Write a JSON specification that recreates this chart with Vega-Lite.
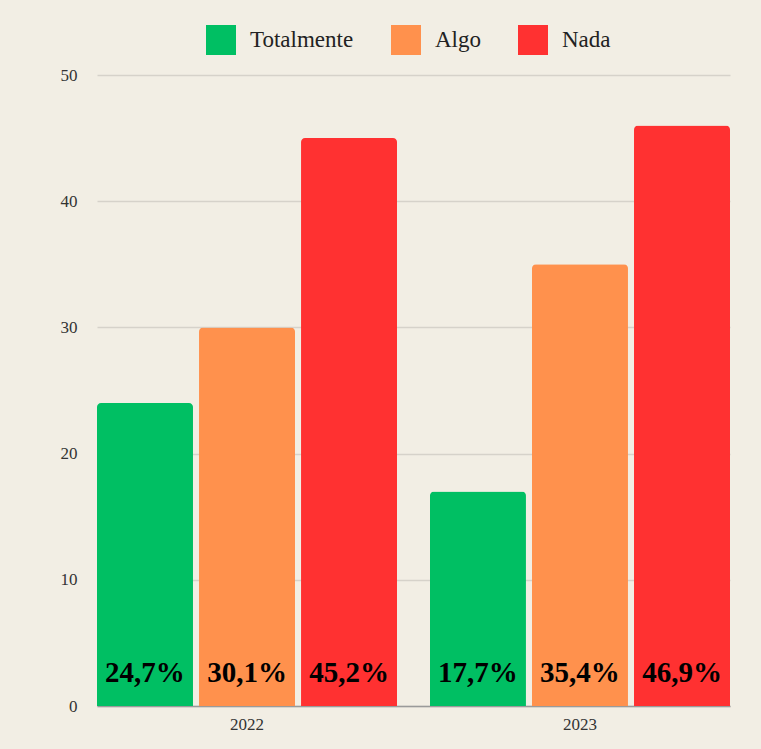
{
  "$schema": "https://vega.github.io/schema/vega-lite/v6.json",
  "width": 633,
  "height": 631,
  "autosize": "none",
  "padding": {"left": 97, "top": 75, "right": 31, "bottom": 43},
  "background": "#f2eee4",
  "config": {
    "view": {"stroke": null},
    "font": "Liberation Serif",
    "axis": {"labelFont": "Liberation Serif", "labelColor": "#333333", "labelFontSize": 17}
  },
  "data": {
    "values": [
      {"year": "2022", "cat": "Totalmente", "value": 24, "label": "24,7%"},
      {"year": "2022", "cat": "Algo", "value": 30, "label": "30,1%"},
      {"year": "2022", "cat": "Nada", "value": 45, "label": "45,2%"},
      {"year": "2023", "cat": "Totalmente", "value": 17, "label": "17,7%"},
      {"year": "2023", "cat": "Algo", "value": 35, "label": "35,4%"},
      {"year": "2023", "cat": "Nada", "value": 46, "label": "46,9%"}
    ]
  },
  "encoding": {
    "x": {
      "field": "year", "type": "nominal", "title": null,
      "scale": {"paddingInner": 0.099, "paddingOuter": 0},
      "axis": {"labelAngle": 0, "ticks": false, "domainColor": "#9a9a9a", "domainWidth": 1.5, "labelPadding": 10}
    },
    "xOffset": {
      "field": "cat", "type": "nominal",
      "sort": ["Totalmente", "Algo", "Nada"],
      "scale": {"paddingInner": 0.059, "paddingOuter": 0}
    }
  },
  "layer": [
    {
      "mark": {"type": "bar", "cornerRadiusTopLeft": 4, "cornerRadiusTopRight": 4},
      "encoding": {
        "y": {
          "field": "value", "type": "quantitative", "title": null,
          "scale": {"domain": [0, 50]},
          "axis": {"values": [0, 10, 20, 30, 40, 50], "domain": false, "ticks": false, "labelPadding": 20, "gridColor": "#d6d2ca", "gridWidth": 1.5}
        },
        "color": {
          "field": "cat", "type": "nominal",
          "sort": ["Totalmente", "Algo", "Nada"],
          "scale": {"domain": ["Totalmente", "Algo", "Nada"], "range": ["#00bf63", "#ff914d", "#ff3131"]},
          "legend": {
            "title": null, "orient": "none", "direction": "horizontal",
            "legendX": 109, "legendY": -50,
            "symbolType": "square", "symbolSize": 900, "symbolStrokeWidth": 0, "symbolOpacity": 1,
            "labelFont": "Liberation Serif", "labelFontSize": 23, "labelColor": "#222222",
            "labelOffset": 14, "columnPadding": 37
          }
        }
      }
    },
    {
      "mark": {"type": "text", "font": "Liberation Serif", "fontWeight": "bold", "fontSize": 29, "color": "#000000", "baseline": "alphabetic", "dy": -24},
      "encoding": {
        "y": {"datum": 0, "type": "quantitative"},
        "text": {"field": "label"}
      }
    }
  ]
}
